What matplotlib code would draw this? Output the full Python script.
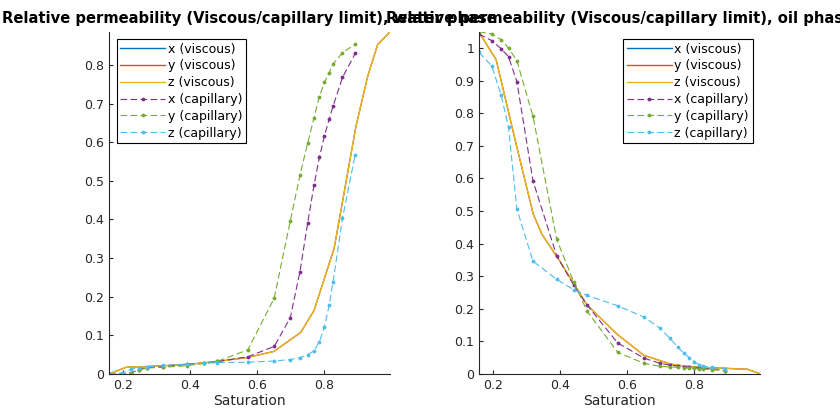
import matplotlib
matplotlib.use("Agg")
import matplotlib.pyplot as plt

# saturation grids
sat_visc = [0.158, 0.209, 0.27, 0.32, 0.345, 0.40, 0.48, 0.57, 0.65, 0.73,
            0.77, 0.83, 0.86, 0.895, 0.93, 0.96, 0.998]
sat_cap = [0.158, 0.196, 0.224, 0.246, 0.271, 0.319, 0.390, 0.441, 0.480,
           0.572, 0.651, 0.699, 0.728, 0.751, 0.770, 0.786, 0.801, 0.815,
           0.827, 0.855, 0.893]

# water phase
water_visc = [0.0, 0.017, 0.019, 0.021, 0.022, 0.025, 0.032, 0.042, 0.058,
              0.107, 0.164, 0.325, 0.47, 0.64, 0.77, 0.853, 0.887]
water_cap_x = [0.0, 0.0, 0.003, 0.011, 0.016, 0.018, 0.025, 0.027, 0.032,
               0.044, 0.071, 0.145, 0.265, 0.391, 0.489, 0.561, 0.616,
               0.659, 0.694, 0.768, 0.830]
water_cap_y = [0.0, 0.0, 0.002, 0.010, 0.015, 0.017, 0.021, 0.027, 0.032,
               0.062, 0.196, 0.396, 0.515, 0.598, 0.664, 0.718, 0.755,
               0.780, 0.803, 0.832, 0.854]
water_cap_z = [0.0, 0.002, 0.012, 0.016, 0.018, 0.022, 0.025, 0.027, 0.029,
               0.030, 0.033, 0.037, 0.042, 0.049, 0.060, 0.083, 0.121,
               0.177, 0.239, 0.403, 0.568]

# oil phase
oil_visc = [1.048, 0.965, 0.70, 0.49, 0.43, 0.345, 0.212, 0.122, 0.057,
            0.030, 0.024, 0.019, 0.018, 0.017, 0.015, 0.014, 0.0]
oil_cap_x = [1.043, 1.023, 0.998, 0.974, 0.897, 0.593, 0.362, 0.272, 0.212,
             0.095, 0.048, 0.032, 0.027, 0.024, 0.022, 0.020, 0.019, 0.018,
             0.017, 0.014, 0.010]
oil_cap_y = [1.051, 1.043, 1.026, 1.000, 0.961, 0.791, 0.413, 0.282, 0.194,
             0.066, 0.032, 0.023, 0.021, 0.020, 0.019, 0.018, 0.017, 0.016,
             0.015, 0.013, 0.010]
oil_cap_z = [0.987, 0.945, 0.856, 0.757, 0.506, 0.346, 0.290, 0.258, 0.241,
             0.209, 0.174, 0.140, 0.109, 0.083, 0.063, 0.050, 0.037, 0.028,
             0.024, 0.020, 0.016]

visc_colors = ["#0072BD", "#D95319", "#EDB120"]
cap_colors = ["#7E2F8E", "#77AC30", "#4DBEEE"]
labels_visc = ["x (viscous)", "y (viscous)", "z (viscous)"]
labels_cap = ["x (capillary)", "y (capillary)", "z (capillary)"]

plt.rcParams["font.family"] = "DejaVu Sans"
fig = plt.figure(figsize=(8.4, 4.2), dpi=100)


def draw_panel(ax, visc, caps, title, yticks, legend_loc):
    # x and y viscous coincide with z, which is drawn last and covers them
    for i, (c, lab) in enumerate(zip(visc_colors, labels_visc)):
        ax.plot(sat_visc, visc, "-", color=c, lw=1.1 if i == 2 else 0.7,
                label=lab)
    for vals, c, lab in zip(caps, cap_colors, labels_cap):
        ax.plot(sat_cap, vals, "--", color=c, lw=0.8, marker=".",
                markersize=3.5, dashes=(6, 3), label=lab)
    ax.set_xlim(sat_visc[0], sat_visc[-1])
    ax.set_ylim(0, max(max(visc), max(max(v) for v in caps)))
    ax.set_xticks([0.2, 0.4, 0.6, 0.8])
    ax.set_yticks(yticks)
    ax.set_yticklabels([f"{t:g}" for t in yticks])
    ax.set_xlabel("Saturation", fontsize=10, color="#262626", labelpad=2)
    ax.set_title(title, fontsize=10.6, fontweight="bold", pad=6)
    for s in ["top", "right"]:
        ax.spines[s].set_visible(False)
    for s in ["left", "bottom"]:
        ax.spines[s].set_color("#262626")
        ax.spines[s].set_linewidth(0.8)
    ax.tick_params(direction="in", length=3, labelsize=9, colors="#262626")
    leg = ax.legend(loc=legend_loc, fontsize=9, fancybox=False,
                    edgecolor="black", framealpha=1, handlelength=3.6,
                    handletextpad=0.2, labelspacing=0.3, borderpad=0.3,
                    borderaxespad=0.6)
    leg.get_frame().set_linewidth(0.8)
    for line in leg.get_lines()[:3]:
        line.set_linewidth(1.0)


ax1 = fig.add_axes([0.13, 0.11, 0.3347, 0.815])
ax2 = fig.add_axes([0.5703, 0.11, 0.3347, 0.815])

draw_panel(ax1, water_visc, [water_cap_x, water_cap_y, water_cap_z],
           "Relative permeability (Viscous/capillary limit), water phase",
           [0, 0.1, 0.2, 0.3, 0.4, 0.5, 0.6, 0.7, 0.8], "upper left")
draw_panel(ax2, oil_visc, [oil_cap_x, oil_cap_y, oil_cap_z],
           "Relative permeability (Viscous/capillary limit), oil phase",
           [0, 0.1, 0.2, 0.3, 0.4, 0.5, 0.6, 0.7, 0.8, 0.9, 1], "upper right")

fig.savefig("out.png", dpi=100)
